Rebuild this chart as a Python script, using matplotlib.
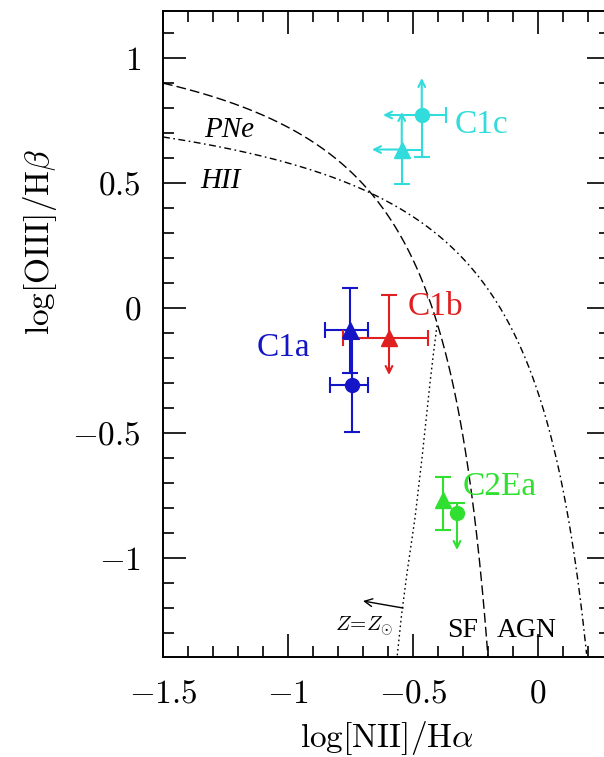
import numpy as np
import matplotlib.pyplot as plt
from matplotlib.ticker import MultipleLocator, FuncFormatter

plt.rcParams['mathtext.fontset'] = 'cm'
plt.rcParams['font.family'] = 'serif'
plt.rcParams['font.serif'] = ['Liberation Serif', 'DejaVu Serif']

# --- data ---
# points: C1a (tri, circ), C1b (tri), C1c (tri, circ), C2Ea (tri, circ)
pt_x = [-0.752, -0.745, -0.596, -0.545, -0.465, -0.380, -0.324]
pt_y = [-0.088, -0.308, -0.120, 0.634, 0.772, -0.768, -0.820]
pt_marker = ['^', 'o', '^', '^', 'o', '^', 'o']
pt_color = ['#1515c8', '#1515c8', '#e02020', '#30dcdc', '#30dcdc', '#30e030', '#30e030']

# end of each error bar (None = no bar) and how the end is drawn
x_left = [-0.852, -0.832, -0.780, -0.664, -0.620, None, None]
x_right = [-0.680, -0.680, -0.440, -0.472, -0.368, None, None]
y_low = [-0.260, -0.496, -0.268, 0.496, 0.604, -0.888, -0.968]
y_high = [0.080, -0.123, 0.052, 0.784, 0.920, -0.676, -0.780]
left_end = ['cap', 'cap', 'cap', 'arrow', 'arrow', None, None]
right_end = ['cap', 'cap', 'cap', None, 'cap', None, None]
low_end = ['cap', 'cap', 'arrow', 'cap', 'cap', 'cap', 'arrow']
high_end = ['cap', 'cap', 'cap', 'arrow', 'arrow', 'cap', 'cap']

# region labels
lab_text = ['C1a', 'C1b', 'C1c', 'C2Ea']
lab_x = [-1.02, -0.412, -0.228, -0.152]
lab_y = [-0.16, 0.004, 0.732, -0.716]
lab_color = ['#1515c8', '#e02020', '#30dcdc', '#30e030']

# demarcation curves  y = a/(x-b)+c
sf_a, sf_b, sf_c = 0.53, 0.0, 1.253       # dashed
agn_a, agn_b, agn_c = 0.5816, 0.44, 0.984  # dash-dot

# solar metallicity track (dotted)
track_x = [-0.404, -0.418, -0.432, -0.448, -0.464, -0.492, -0.524, -0.546, -0.564]
track_y = [-0.070, -0.180, -0.300, -0.450, -0.600, -0.840, -1.060, -1.230, -1.400]

xmin, xmax = -1.5, 0.288
ymin, ymax = -1.396, 1.19

fig = plt.figure(figsize=(6.04, 7.57), dpi=100)
ax = fig.add_axes([0.2699, 0.1321, 0.74, 0.8540])

# curves
xs = np.linspace(xmin, 0.2, 600)
ys = sf_a / (xs - sf_b) + sf_c
ok = (xs < sf_b) & (ys >= ymin)
ax.plot(xs[ok], ys[ok], color='k', lw=1.0, dashes=(7, 3))
ys2 = agn_a / (xs - agn_b) + agn_c
ok2 = (xs < agn_b) & (ys2 >= ymin)
ax.plot(xs[ok2], ys2[ok2], color='k', lw=1.0, dashes=(5, 2.5, 1.2, 2.5))
ax.plot(track_x, track_y, color='k', lw=1.0, dashes=(1.2, 2.2))


def bar_end(x0, y0, x1, y1, kind, col, horiz):
    if kind == 'arrow':
        ax.annotate('', xy=(x1, y1), xytext=(x0, y0),
                    arrowprops=dict(arrowstyle='->', color=col, lw=1.5,
                                    mutation_scale=12, shrinkA=0, shrinkB=0))
    else:
        ax.plot([x0, x1], [y0, y1], color=col, lw=1.5)
        if kind == 'cap':
            ax.plot(x1, y1, marker='|' if horiz else '_', ms=11, mew=1.5, color=col)


for i in range(len(pt_x)):
    x, y, c = pt_x[i], pt_y[i], pt_color[i]
    if x_left[i] is not None:
        bar_end(x, y, x_left[i], y, left_end[i], c, True)
    if x_right[i] is not None:
        bar_end(x, y, x_right[i], y, right_end[i], c, True)
    if y_low[i] is not None:
        bar_end(x, y, x, y_low[i], low_end[i], c, False)
    if y_high[i] is not None:
        bar_end(x, y, x, y_high[i], high_end[i], c, False)
    ax.plot(x, y, marker=pt_marker[i], ms=10 if pt_marker[i] == 'o' else 11,
            color=c, mec=c, zorder=5)

for t, x, y, c in zip(lab_text, lab_x, lab_y, lab_color):
    ax.text(x, y, t, color=c, fontsize=24, ha='center', va='center')

# annotations
ax.text(-1.236, 0.712, 'PNe', fontsize=21, style='italic', ha='center', va='center')
ax.text(-1.268, 0.508, 'HII', fontsize=21, style='italic', ha='center', va='center')
ax.text(-0.30, -1.288, 'SF', fontsize=20, ha='center', va='center')
ax.text(-0.044, -1.288, 'AGN', fontsize=20, ha='center', va='center')
ax.text(-0.696, -1.272, r'$Z\!=\!Z_{\odot}$', fontsize=15, ha='center', va='center')
ax.annotate('', xy=(-0.70, -1.172), xytext=(-0.54, -1.2),
            arrowprops=dict(arrowstyle='->', color='k', lw=1.0,
                            mutation_scale=14, shrinkA=0, shrinkB=0))

ax.set_xlim(xmin, xmax)
ax.set_ylim(ymin, ymax)
ax.xaxis.set_major_locator(MultipleLocator(0.5))
ax.xaxis.set_minor_locator(MultipleLocator(0.1))
ax.yaxis.set_major_locator(MultipleLocator(0.5))
ax.yaxis.set_minor_locator(MultipleLocator(0.1))
fmt = FuncFormatter(lambda v, p: r'$%g$' % round(v, 2))
ax.xaxis.set_major_formatter(fmt)
ax.yaxis.set_major_formatter(fmt)
ax.tick_params(which='both', direction='in', top=True, right=True, labelsize=24, width=1.2)
ax.tick_params(which='major', length=16.5)
ax.tick_params(which='minor', length=8)
ax.tick_params(axis='x', pad=16)
ax.tick_params(axis='y', pad=16)
for s in ax.spines.values():
    s.set_linewidth(1.4)

ax.set_xlabel(r'$\log[\mathrm{NII}]/\mathrm{H}\alpha$', fontsize=24, va='center')
ax.set_ylabel(r'$\log[\mathrm{OIII}]/\mathrm{H}\beta$', fontsize=24, va='center')
ax.xaxis.set_label_coords(0.501, -0.125)
ax.yaxis.set_label_coords(-0.276, 0.642)

fig.savefig('out.png', dpi=100)
